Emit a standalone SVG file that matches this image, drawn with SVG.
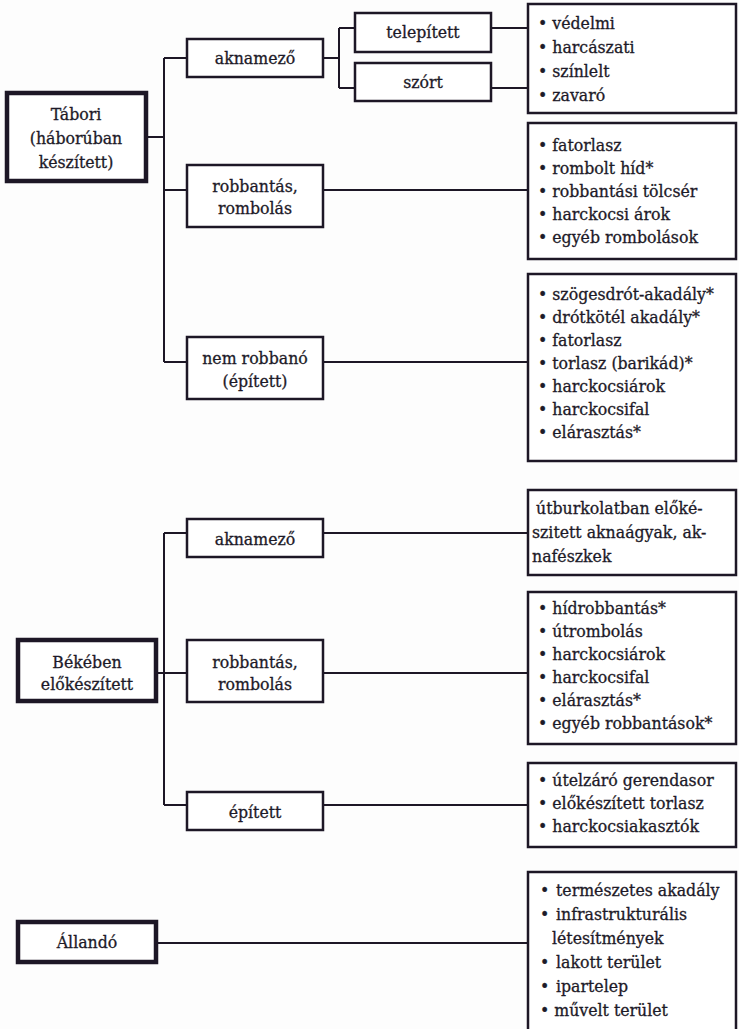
<svg xmlns="http://www.w3.org/2000/svg" width="739" height="1029" viewBox="0 0 739 1029">
<style>
.bg{fill:#fdfdfd}
.box{fill:#ffffff;stroke:#1d1726;stroke-width:2.5}
.root{fill:#ffffff;stroke:#1d1726;stroke-width:4.5}
.ln{fill:none;stroke:#1d1726;stroke-width:2}
text{font-family:'DejaVu Serif Condensed','DejaVu Serif',serif;font-stretch:condensed;font-size:17.5px;fill:#1d1a28;stroke:#1d1a28;stroke-width:0.3}
.c{text-anchor:middle}
</style>
<rect class="bg" x="0" y="0" width="739" height="1029"/>
<g id="connectors">
<path class="ln" d="M147 137H164M164 58V362M164 58H187M164 190H187M164 362H187"/>
<path class="ln" d="M323 58H339M339 28V88M339 28H355M339 88H355"/>
<path class="ln" d="M491 28H528M491 88H528M323 190H528M323 362H528"/>
<path class="ln" d="M157 673H164M164 533V805M164 533H187M164 673H187M164 805H187"/>
<path class="ln" d="M323 533H528M323 673H528M323 805H528"/>
<path class="ln" d="M157 943H528"/>
</g>
<g id="n-tabori"><rect class="root" x="7" y="93" width="139" height="88"/>
<text class="c" x="76" y="120">Tábori</text><text class="c" x="76" y="144">(háborúban</text><text class="c" x="76" y="168">készített)</text></g>
<g id="n-aknamezo1"><rect class="box" x="187" y="39" width="136" height="38"/><text class="c" x="255" y="64">aknamező</text></g>
<g id="n-telepitett"><rect class="box" x="355" y="13" width="136" height="39"/><text class="c" x="423" y="38">telepített</text></g>
<g id="n-szort"><rect class="box" x="355" y="63" width="136" height="38"/><text class="c" x="423" y="88">szórt</text></g>
<g id="n-robb1"><rect class="box" x="187" y="165" width="136" height="62"/><text class="c" x="255" y="192">robbantás,</text><text class="c" x="255" y="214">rombolás</text></g>
<g id="n-nemrobb"><rect class="box" x="187" y="337" width="136" height="62"/><text class="c" x="255" y="364">nem robbanó</text><text class="c" x="255" y="387">(épített)</text></g>
<g id="l-akna1"><rect class="box" x="528" y="4" width="208" height="109"/>
<text x="538" y="29">• védelmi</text><text x="538" y="53">• harcászati</text><text x="538" y="77">• színlelt</text><text x="538" y="101">• zavaró</text></g>
<g id="l-robb1"><rect class="box" x="528" y="123" width="208" height="136"/>
<text x="538" y="151">• fatorlasz</text><text x="538" y="174">• rombolt híd*</text><text x="538" y="197">• robbantási tölcsér</text><text x="538" y="220">• harckocsi árok</text><text x="538" y="243">• egyéb rombolások</text></g>
<g id="l-nemrobb"><rect class="box" x="528" y="274" width="208" height="187"/>
<text x="538" y="300">• szögesdrót-akadály*</text><text x="538" y="323">• drótkötél akadály*</text><text x="538" y="346">• fatorlasz</text><text x="538" y="369">• torlasz (barikád)*</text><text x="538" y="392">• harckocsiárok</text><text x="538" y="415">• harckocsifal</text><text x="538" y="438">• elárasztás*</text></g>
<g id="n-bekeben"><rect class="root" x="18" y="640" width="138" height="61"/>
<text class="c" x="87" y="668">Békében</text><text class="c" x="87" y="690">előkészített</text></g>
<g id="n-aknamezo2"><rect class="box" x="187" y="519" width="136" height="38"/><text class="c" x="255" y="545">aknamező</text></g>
<g id="n-robb2"><rect class="box" x="187" y="640" width="136" height="62"/><text class="c" x="255" y="668">robbantás,</text><text class="c" x="255" y="690">rombolás</text></g>
<g id="n-epitett"><rect class="box" x="187" y="792" width="136" height="38"/><text class="c" x="255" y="818">épített</text></g>
<g id="l-akna2"><rect class="box" x="528" y="490" width="208" height="85"/>
<text x="536" y="514">útburkolatban előké-</text><text x="532" y="538">szitett aknaágyak, ak-</text><text x="532" y="562">nafészkek</text></g>
<g id="l-robb2"><rect class="box" x="528" y="592" width="208" height="152"/>
<text x="538" y="614">• hídrobbantás*</text><text x="538" y="637">• útrombolás</text><text x="538" y="660">• harckocsiárok</text><text x="538" y="683">• harckocsifal</text><text x="538" y="706">• elárasztás*</text><text x="538" y="729">• egyéb robbantások*</text></g>
<g id="l-epitett"><rect class="box" x="528" y="763" width="208" height="84"/>
<text x="538" y="786">• útelzáró gerendasor</text><text x="538" y="809">• előkészített torlasz</text><text x="538" y="832">• harckocsiakasztók</text></g>
<g id="n-allando"><rect class="root" x="18" y="922" width="138" height="40"/><text class="c" x="87" y="948">Állandó</text></g>
<g id="l-allando"><path class="box" d="M736 1040V872H528V1040"/>
<text x="540" y="896">•</text><text x="556" y="896">természetes akadály</text>
<text x="540" y="920">•</text><text x="556" y="920">infrastrukturális</text>
<text x="552" y="944">létesítmények</text>
<text x="540" y="968">•</text><text x="556" y="968">lakott terület</text>
<text x="540" y="992">•</text><text x="556" y="992">ipartelep</text>
<text x="540" y="1016">• művelt terület</text></g>
</svg>
